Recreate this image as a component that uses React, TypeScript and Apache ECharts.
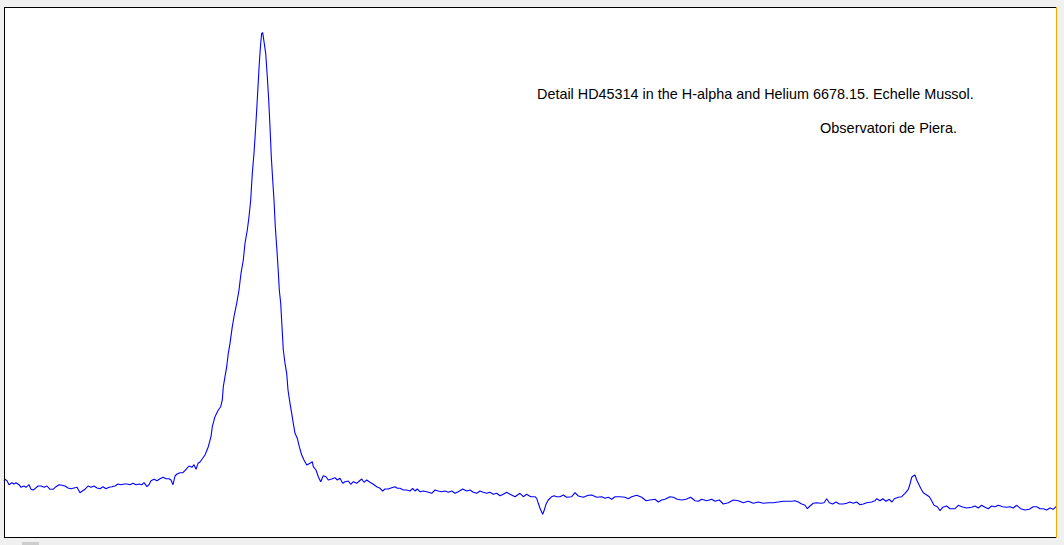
import React, { useEffect, useRef } from "react";
import * as echarts from "echarts";

// Spectrum readings: [channel, relative intensity]
const continuumLeft: number[][] = [
  [0, 57.3], [1, 58.7], [3, 57.3], [5, 53.3], [8, 55.3], [10, 54], [12, 55.3], [15, 53.3], [17, 50.7], [20, 52],
  [22, 50.7], [25, 53.3], [27, 48.7], [29, 48], [31, 49.3], [34, 52], [37, 52], [40, 50.7], [43, 52], [46, 48.7],
  [49, 48.7], [52, 51.3], [55, 53.3], [58, 52.7], [61, 52], [64, 50], [67, 49.3], [70, 50], [73, 50.7], [76, 45.3],
  [78, 46.7], [81, 48.7], [84, 52], [87, 50.7], [90, 52], [93, 50], [96, 49.3], [99, 51.3], [102, 49.3], [105, 50.7],
  [108, 51.3], [111, 52], [114, 54], [117, 53.3], [120, 54], [123, 54], [126, 53.3], [129, 54.7], [132, 53.3], [135, 54],
  [138, 53.3], [140, 55.3], [143, 51.3], [145, 53.3], [147, 57.3], [150, 58.7], [153, 57.3], [156, 59.3], [159, 60.7],
  [162, 59.3], [165, 59.3], [167, 58], [169, 53.3], [171, 62], [173, 64], [176, 65.3], [179, 65.3], [182, 68.7],
  [185, 72], [188, 70.7], [190, 73.3], [192, 68.7], [194, 74.7], [196, 76],
];

const hAlphaProfile: number[][] = [
  [201, 83], [204.3, 91.3], [207, 101.3], [208.3, 111.3], [211, 121.3], [214.3, 128], [216.7, 131.3], [218.3, 138],
  [219.3, 151.3], [221, 161.3], [222.7, 171.3], [224.3, 184.7], [226, 194.7], [228.3, 211.3], [230.3, 223],
  [232.7, 234.7], [235, 248], [237, 264.7], [239.3, 278], [241, 294.7], [243.3, 308], [245, 321.3], [246.7, 338],
  [248.3, 364.7], [250, 384.7], [251.3, 404.7], [252.7, 428], [254, 451.3], [255.3, 474.7], [256.7, 494.7],
  [257.7, 504.7], [258.7, 505.3], [260, 496.3], [261.7, 484.7], [263.3, 461.3], [264.7, 438], [266, 411.3],
  [267.3, 381.3], [268.7, 358], [270, 338], [271.3, 311.3], [272.7, 291.3], [274, 271.3], [275.3, 248],
  [276.7, 234.7], [278, 211.3], [279.3, 188], [281, 174.7], [282.7, 164.7], [284, 148], [286, 134.7], [287.7, 124.7],
  [289.3, 114.7], [291, 104.7], [293.3, 99.7], [295.3, 91.3], [297.7, 83], [300, 78], [302.7, 73], [306, 74.7],
  [308.3, 76.3], [309.3, 71.3], [312, 68], [314.3, 61.3], [316.7, 56.3],
];

const continuumMiddle: number[][] = [
  [319.3, 62.3], [322, 61.3], [324.3, 58], [327.7, 59], [331, 60.3], [333.3, 58], [336, 59.7], [338.7, 54.7],
  [341, 56.3], [344.3, 57], [346.7, 53.7], [349.3, 56.3], [352.7, 54.7], [355.3, 57], [357.7, 59], [360, 55.7],
  [362.7, 58], [366, 55.7], [369.3, 53.7], [372.7, 51.3], [376, 49.7], [378.7, 47], [381, 49], [384.3, 49],
  [387.7, 50.3], [391, 51.3], [393.3, 49.7], [396, 49.7], [399.3, 48], [402.7, 48], [406, 47], [408.7, 49.7],
  [411, 47], [413.3, 49], [416, 46.3], [419.3, 47], [422.7, 46.3], [427.7, 44.7], [431, 48], [434.3, 47],
  [437.7, 46.3], [441, 47], [444.3, 45.7], [447.7, 47], [451, 44.7], [454.3, 46.3], [458.7, 49], [462.7, 47],
  [466, 48], [469.3, 45.7], [472.7, 44.7], [476, 47], [479.3, 45.7], [482.7, 44.7], [486, 45.7], [489.3, 43.7],
  [492.7, 44.7], [496, 42.3], [499.3, 43.7], [502.7, 45.7], [506, 43.7], [511, 41.3], [516, 44.7], [519.3, 41.3],
  [522.7, 43.7], [526.7, 41.3], [531, 41.3], [532.7, 39.7], [534.3, 34.7], [536, 29.7], [538.7, 23.7], [540.3, 28],
  [542, 33.7], [544.3, 38], [547.7, 41.3], [550, 42.3], [552.7, 41.3], [556, 41.3], [559.3, 43], [562.7, 40.7],
  [567.7, 41.3], [571, 45.3], [574.3, 42], [579.3, 40.7], [584.3, 42.7], [587.7, 43], [592.7, 40.7], [597.7, 41.3],
  [601, 39.7], [604.3, 40.7], [607.7, 38.7], [611, 41.3], [616, 41.3], [621, 40.7], [624.3, 39.3], [627.7, 41.3],
  [632.7, 42.7], [637.7, 40.7], [642, 37.3], [646, 38], [651, 38.7], [654.3, 36], [657.7, 38], [661, 38.7],
  [666, 41.3], [669.3, 40.7], [673.3, 38.7], [677.7, 38], [682, 38.7], [686.7, 40.7], [691, 37.3], [694.3, 36.7],
  [697.7, 38.7], [702.7, 37.3], [707.7, 38.7], [711, 36.7], [715.3, 38], [719.3, 34], [724.3, 35.3], [729.3, 38],
  [734.3, 37.3], [739.3, 35.3], [744.3, 36.7], [749.3, 34.7], [754.3, 36], [759.3, 34.7], [764.3, 35.3],
  [769.3, 35.3], [774.3, 36], [779.3, 36.7], [784.3, 36.7], [787.7, 36.7], [791, 37.3], [794.3, 36], [797.7, 34],
  [801, 32.7], [803.3, 29.3], [806, 32], [809.3, 34.7], [812.7, 35.3], [816.7, 34.7], [820, 35.3], [822.7, 39.3],
  [825.3, 35.3], [828.7, 34], [832, 36], [835.3, 34], [839.3, 34], [842.7, 34.7], [846, 36], [849.3, 34.7],
  [852.7, 36], [856, 33.3], [859.3, 34], [862.7, 35.3], [867.7, 36], [871, 37.3], [872.7, 39.3], [876, 37.3],
  [878.7, 39.3], [882, 36.7], [885.3, 38.7], [888, 36], [890.3, 39.3], [894.3, 40.7], [897.7, 41.3],
];

const heliumProfile: number[][] = [
  [901, 44.7], [904.3, 48.7], [906, 54], [907.7, 60.7], [909.3, 62], [911, 63], [912.7, 58], [914.3, 54.7],
  [916.7, 49.7], [919.3, 45.3], [922.7, 43], [925.3, 41.3], [927.7, 37.3], [930, 32.7], [933.3, 31.3], [936, 27.3],
];

const continuumRight: number[][] = [
  [938.7, 30.7], [942.7, 32], [946, 29.3], [951, 29.3], [954.3, 32.7], [957.7, 31.3], [962.7, 30], [967.7, 30.7],
  [971, 32], [974.3, 30], [977.7, 32.7], [981, 30.7], [984.3, 29.3], [987.7, 32], [991, 31.3], [994.3, 32.7],
  [998.7, 31.3], [1002.7, 30.7], [1006, 31.3], [1009.3, 30], [1012.7, 32.7], [1016.7, 29.3], [1021, 28],
  [1025.3, 28.7], [1029.3, 31.3], [1032.7, 31.3], [1036, 29.3], [1039.3, 29.3], [1042.7, 28], [1046, 30],
  [1049.3, 28.7], [1052, 31.3],
];

const titleLine1 = "Detail HD45314 in the H-alpha and Helium 6678.15. Echelle Mussol.";
const titleLine2 = "Observatori de Piera.";

export default function App() {
  const ref = useRef<HTMLDivElement>(null);

  useEffect(() => {
    if (!ref.current) return;
    const chart = echarts.init(ref.current, undefined, { renderer: "svg" });
    const data = [
      ...continuumLeft,
      ...hAlphaProfile,
      ...continuumMiddle,
      ...heliumProfile,
      ...continuumRight,
    ];
    const font = "'Liberation Sans', Arial, sans-serif";
    chart.setOption({
      animation: false,
      backgroundColor: "#f0f0f0",
      grid: {
        left: 4,
        top: 7,
        width: 1053,
        height: 531,
        show: true,
        backgroundColor: "#ffffff",
        borderWidth: 0,
      },
      xAxis: { type: "value", min: 0, max: 1053, show: false },
      yAxis: { type: "value", min: 0, max: 531, show: false },
      series: [
        {
          type: "line",
          data,
          showSymbol: false,
          symbol: "none",
          lineStyle: { color: "#0000ff", width: 1.1 },
          itemStyle: { color: "#0000ff" },
          z: 2,
        },
      ],
      graphic: [
        { type: "line", z: 100, shape: { x1: 4.5, y1: 7, x2: 4.5, y2: 538 }, style: { stroke: "#000", lineWidth: 1 } },
        { type: "line", z: 100, shape: { x1: 4, y1: 7.5, x2: 1056, y2: 7.5 }, style: { stroke: "#000", lineWidth: 1 } },
        { type: "line", z: 100, shape: { x1: 4, y1: 537.5, x2: 1056, y2: 537.5 }, style: { stroke: "#000", lineWidth: 1 } },
        { type: "line", z: 100, shape: { x1: 1056.5, y1: 7, x2: 1056.5, y2: 538 }, style: { stroke: "#ffa500", lineWidth: 1 } },
        { type: "rect", z: 100, shape: { x: 22, y: 542, width: 17, height: 3 }, style: { fill: "#cdcdcd" } },
        {
          type: "text",
          z: 100,
          x: 537,
          y: 94,
          style: { text: titleLine1, fill: "#000", font: `14.4px ${font}`, verticalAlign: "middle", align: "left" },
        },
        {
          type: "text",
          z: 100,
          x: 820,
          y: 128,
          style: { text: titleLine2, fill: "#000", font: `14.5px ${font}`, verticalAlign: "middle", align: "left" },
        },
      ],
    });
    return () => chart.dispose();
  }, []);

  return (
    <div
      ref={ref}
      style={{ position: "fixed", left: 0, top: 0, width: 1064, height: 545, background: "#f0f0f0" }}
    />
  );
}
